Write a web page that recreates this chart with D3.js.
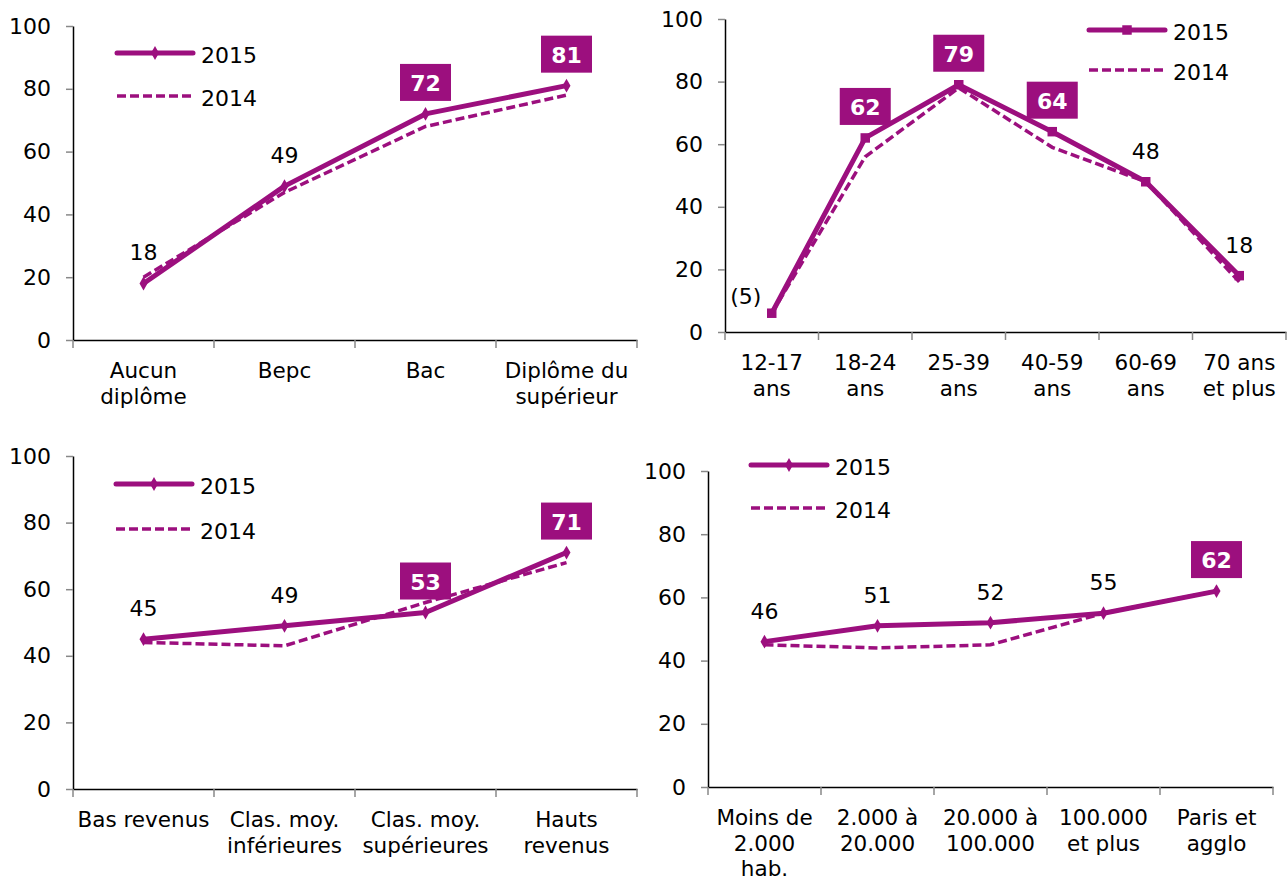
<!DOCTYPE html>
<html>
<head>
<meta charset="utf-8">
<script src="https://cdn.jsdelivr.net/npm/d3@7"></script>
<style>
  body { margin: 0; background: #fff; }
  text { font-family: "DejaVu Sans", Verdana, sans-serif; }
</style>
</head>
<body>
<script>
var W = 1288, H = 882;
var purple = "#9c0f7e";

// tick labels of the value axis
var yTicks = [0, 20, 40, 60, 80, 100];
var seriesNames = ["2015", "2014"];

// diplôme
var educCats = [["Aucun", "diplôme"], ["Bepc"], ["Bac"], ["Diplôme du", "supérieur"]];
var educ2015 = [18, 49, 72, 81];
var educ2014 = [20, 47, 68, 78];
var educLabels = ["18", "49", "72", "81"];
var educBoxed = [2, 3];

// âge
var ageCats = [["12-17", "ans"], ["18-24", "ans"], ["25-39", "ans"], ["40-59", "ans"], ["60-69", "ans"], ["70 ans", "et plus"]];
var age2015 = [6, 62, 79, 64, 48, 18];
var age2014 = [6, 56, 78, 59, 48, 16];
var ageLabels = ["(5)", "62", "79", "64", "48", "18"];
var ageBoxed = [1, 2, 3];

// revenus
var revCats = [["Bas revenus"], ["Clas. moy.", "inférieures"], ["Clas. moy.", "supérieures"], ["Hauts", "revenus"]];
var rev2015 = [45, 49, 53, 71];
var rev2014 = [44, 43, 56, 68];
var revLabels = ["45", "49", "53", "71"];
var revBoxed = [2, 3];

// taille d'agglomération
var townCats = [["Moins de", "2.000", "hab."], ["2.000 à", "20.000"], ["20.000 à", "100.000"], ["100.000", "et plus"], ["Paris et", "agglo"]];
var town2015 = [46, 51, 52, 55, 62];
var town2014 = [45, 44, 45, 55, 62];
var townLabels = ["46", "51", "52", "55", "62"];
var townBoxed = [4];

var svg = d3.select("body").append("svg")
            .attr("width", W)
            .attr("height", H);
svg.append("rect").attr("width", W).attr("height", H).attr("fill", "#fff");

function drawPanel(p) {
  var g = svg.append("g");
  var x = d3.scaleBand().domain(d3.range(p.cats.length)).range([p.left, p.right]).padding(0);
  var y = d3.scaleLinear().domain([0, 100]).range([p.bottom, p.top]);
  var cx = function(i){ return x(i) + x.bandwidth() / 2; };

  // y axis
  var ya = g.append("g")
            .attr("transform", "translate(" + p.left + ",0)")
            .call(d3.axisLeft(y).tickValues(yTicks).tickSize(7).tickSizeOuter(0).tickPadding(15));
  ya.select(".domain").attr("stroke", "#000").attr("stroke-width", 1.5);
  ya.selectAll(".tick line").attr("stroke", "#888").attr("stroke-width", 1.5);
  ya.selectAll(".tick text").attr("font-size", "22px").attr("fill", "#000")
    .attr("font-family", "'DejaVu Sans', Verdana, sans-serif");

  // x axis
  var xa = g.append("g")
            .attr("transform", "translate(0," + p.bottom + ")")
            .call(d3.axisBottom(x).tickSize(0).tickSizeOuter(0).tickFormat(""));
  xa.select(".domain").attr("stroke", "#000").attr("stroke-width", 1.5);
  g.selectAll(".xtick")
   .data(d3.range(p.cats.length + 1))
   .enter()
   .append("line")
   .attr("x1", function(i){ return p.left + i * x.step(); })
   .attr("x2", function(i){ return p.left + i * x.step(); })
   .attr("y1", p.bottom)
   .attr("y2", p.bottom + 8)
   .attr("stroke", "#888")
   .attr("stroke-width", 1.5);

  var lab = g.selectAll(".xlab")
             .data(p.cats)
             .enter()
             .append("text")
             .attr("text-anchor", "middle")
             .attr("font-size", "21.5px")
             .attr("fill", "#000");
  lab.each(function(d, i){
    d3.select(this).selectAll("tspan")
      .data(d)
      .enter()
      .append("tspan")
      .attr("x", cx(i))
      .attr("y", function(t, k){ return p.bottom + 38 + k * 25.5; })
      .text(function(t){ return t; });
  });

  var line = d3.line().x(function(d, i){ return cx(i); }).y(function(d){ return y(d); });

  g.append("path")
   .datum(p.s2015)
   .attr("d", line)
   .attr("fill", "none")
   .attr("stroke", purple)
   .attr("stroke-width", 5)
   .attr("stroke-linejoin", "round");

  var sym = d3.symbol().type(p.square ? d3.symbolSquare : d3.symbolDiamond).size(p.square ? 90 : 55);
  g.selectAll(".mk")
   .data(p.s2015)
   .enter()
   .append("path")
   .attr("d", sym)
   .attr("transform", function(d, i){ return "translate(" + cx(i) + "," + y(d) + ")"; })
   .attr("fill", purple);

  g.append("path")
   .datum(p.s2014)
   .attr("d", line)
   .attr("fill", "none")
   .attr("stroke", purple)
   .attr("stroke-width", 3.5)
   .attr("stroke-dasharray", "9,4");

  // value labels
  p.s2015.forEach(function(v, i){
    var px = cx(i), py = y(v);
    if (p.boxed.indexOf(i) >= 0) {
      g.append("rect")
       .attr("x", px - 25.5).attr("y", py - 13 - 37)
       .attr("width", 51).attr("height", 37)
       .attr("fill", purple);
      g.append("text")
       .attr("x", px).attr("y", py - 13 - 10)
       .attr("text-anchor", "middle")
       .attr("font-size", "22px")
       .attr("font-weight", "bold")
       .attr("fill", "#fff")
       .text(p.labels[i]);
    } else {
      var left = (i === 0 && p.labelLeft);
      g.append("text")
       .attr("x", left ? px - 26 : px)
       .attr("y", left ? py - 9 : py - 23)
       .attr("text-anchor", "middle")
       .attr("font-size", "22px")
       .attr("fill", "#000")
       .text(p.labels[i]);
    }
  });

  // legend
  seriesNames.forEach(function(name, k){
    var ly = p.legY + k * p.legGap;
    g.append("line")
     .attr("x1", p.legX).attr("x2", p.legX + 76)
     .attr("y1", ly).attr("y2", ly)
     .attr("stroke", purple)
     .attr("stroke-width", k === 0 ? 5 : 3.5)
     .attr("stroke-linecap", k === 0 ? "round" : "butt")
     .attr("stroke-dasharray", k === 0 ? null : "9,4");
    if (k === 0) {
      g.append("path").attr("d", sym)
       .attr("transform", "translate(" + (p.legX + 38) + "," + ly + ")")
       .attr("fill", purple);
    }
    g.append("text")
     .attr("x", p.legX + 84).attr("y", ly + 10)
     .attr("font-size", "22px")
     .attr("fill", "#000")
     .text(name);
  });
}

drawPanel({cats: educCats, s2015: educ2015, s2014: educ2014, labels: educLabels, boxed: educBoxed,
           left: 73, right: 637, top: 26, bottom: 340, legX: 117, legY: 53, legGap: 43});
drawPanel({cats: ageCats, s2015: age2015, s2014: age2014, labels: ageLabels, boxed: ageBoxed,
           left: 725, right: 1286, top: 19, bottom: 332, legX: 1089, legY: 30, legGap: 40,
           square: true, labelLeft: true});
drawPanel({cats: revCats, s2015: rev2015, s2014: rev2014, labels: revLabels, boxed: revBoxed,
           left: 73, right: 637, top: 456, bottom: 789, legX: 116, legY: 484, legGap: 45});
drawPanel({cats: townCats, s2015: town2015, s2014: town2014, labels: townLabels, boxed: townBoxed,
           left: 708, right: 1273, top: 471, bottom: 787, legX: 751, legY: 465, legGap: 43});
</script>
</body>
</html>
